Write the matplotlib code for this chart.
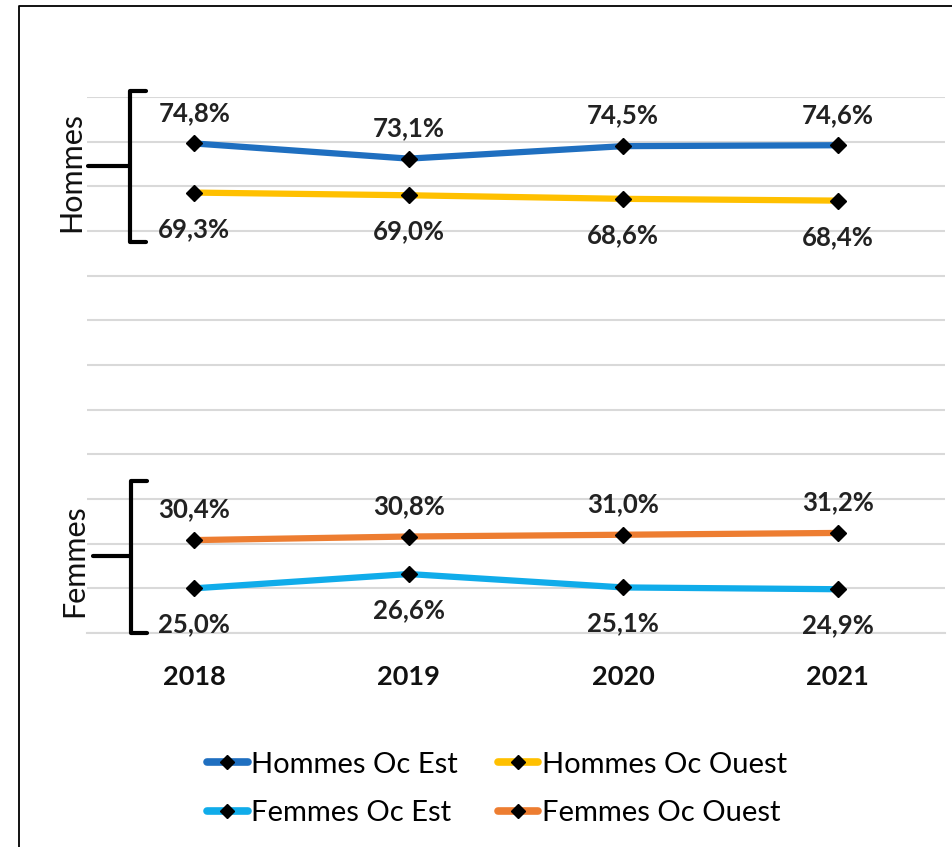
import matplotlib.pyplot as plt
from matplotlib.lines import Line2D

# Données (taux en %)
annees = ['2018', '2019', '2020', '2021']
hommes_est = [74.8, 73.1, 74.5, 74.6]
hommes_ouest = [69.3, 69.0, 68.6, 68.4]
femmes_est = [25.0, 26.6, 25.1, 24.9]
femmes_ouest = [30.4, 30.8, 31.0, 31.2]

W, H = 953, 847
fig = plt.figure(figsize=(W / 100, H / 100), dpi=100)
fig.patch.set_facecolor('white')


def fx(px):
    return px / W


def fy(py):
    return 1 - py / H


ax = fig.add_axes([fx(87), fy(633), fx(945) - fx(87), fy(97) - fy(633)])
x = list(range(len(annees)))

series = [
    (hommes_est, '#1F6FC0', 'Hommes Oc Est', 22),
    (hommes_ouest, '#FFC000', 'Hommes Oc Ouest', -26),
    (femmes_est, '#10ACEA', 'Femmes Oc Est', -26),
    (femmes_ouest, '#ED7D31', 'Femmes Oc Ouest', 22),
]

handles = {}
for vals, col, nom, dy in series:
    ln, = ax.plot(x, vals, color=col, lw=4.5, marker='D', markersize=8,
                  markerfacecolor='black', markeredgecolor='black',
                  solid_capstyle='round', label=nom, zorder=3)
    handles[nom] = ln
    for xi, v in zip(x, vals):
        ax.annotate(f"{v:.1f}%".replace('.', ','), (xi, v), xytext=(0, dy),
                    textcoords='offset points', ha='center', va='center',
                    fontsize=18.5, fontweight='bold', family='Lato', color='#222222')

ax.set_xlim(-0.5, 3.5)
ax.set_ylim(20, 80)
ax.set_yticks(range(20, 81, 5))
ax.set_yticklabels([])
ax.tick_params(axis='y', length=0)
ax.tick_params(axis='x', length=0, pad=23)
ax.set_xticks(x)
ax.set_xticklabels(annees, fontsize=19.5, fontweight='bold', family='Lato', color='#111111')
ax.grid(axis='y', color='#D9D9D9', lw=1.5)
for s in ['top', 'right', 'left']:
    ax.spines[s].set_visible(False)
ax.spines['bottom'].set_color('#D9D9D9')
ax.spines['bottom'].set_linewidth(1.5)
ax.set_axisbelow(True)


# Accolades Hommes / Femmes
def accolade(x0, y_top, y_bot, y_mid, x_tick):
    kw = dict(color='black', lw=3, solid_capstyle='round', solid_joinstyle='round')
    fig.add_artist(Line2D([fx(x0 + 16), fx(x0), fx(x0), fx(x0 + 16)],
                          [fy(y_top), fy(y_top), fy(y_bot), fy(y_bot)], **kw))
    fig.add_artist(Line2D([fx(x_tick), fx(x0)], [fy(y_mid), fy(y_mid)], **kw))


accolade(130, 91, 242, 166, 88)
accolade(131, 481, 633, 556, 93)
fig.text(fx(71), fy(172), 'Hommes', rotation=90, ha='center', va='center',
         fontsize=22, family='Lato', color='#111111')
fig.text(fx(74), fy(561), 'Femmes', rotation=90, ha='center', va='center',
         fontsize=22, family='Lato', color='#111111')

# Cadre
fig.add_artist(Line2D([fx(19), fx(19), 1.01], [-0.01, fy(6), fy(6)], color='black', lw=1.3))

# Légende
ordre = ['Hommes Oc Est', 'Femmes Oc Est', 'Hommes Oc Ouest', 'Femmes Oc Ouest']
leg = fig.legend([handles[n] for n in ordre], ordre, loc='center', ncol=2,
                 bbox_to_anchor=(fx(497), fy(789)), frameon=False,
                 prop={'family': 'Lato', 'size': 21}, handlelength=1.4,
                 handletextpad=0.12, columnspacing=1.35, labelspacing=0.78,
                 markerscale=0.9)
for h in leg.legend_handles:
    h.set_linewidth(5.5)

fig.savefig('out.png', dpi=100)
